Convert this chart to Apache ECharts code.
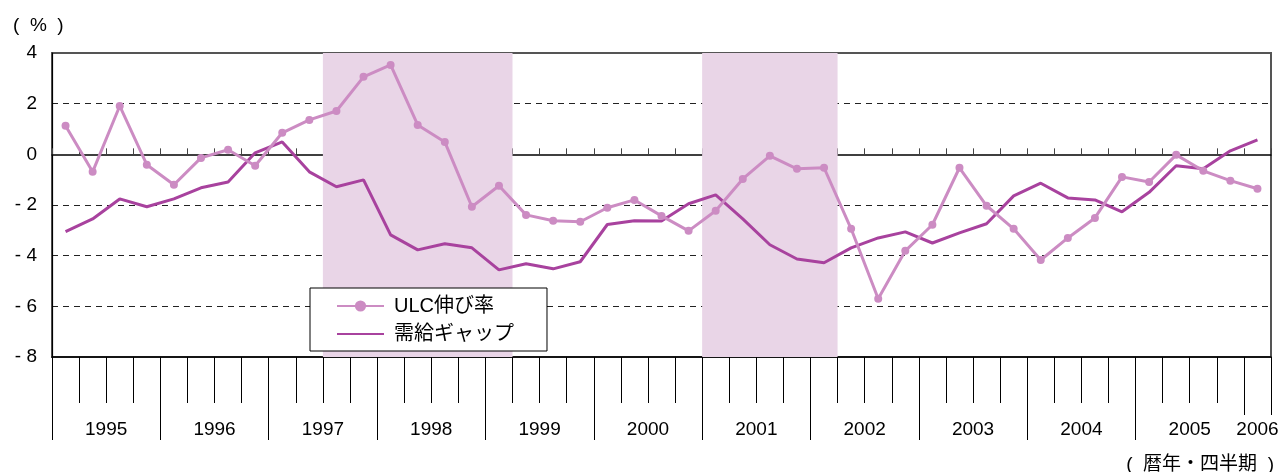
<!DOCTYPE html>
<html>
<head>
<meta charset="utf-8">
<script src="https://cdn.jsdelivr.net/npm/echarts@6/dist/echarts.min.js"></script>
<style>
  html, body { margin: 0; padding: 0; background: #fff; }
  #chart { width: 1282px; height: 472px; }
</style>
</head>
<body>
<div id="chart"></div>
<script>
// 年・四半期（1995年1Q〜2006年1Q）
const years = ['1995', '1996', '1997', '1998', '1999', '2000', '2001', '2002', '2003', '2004', '2005', '2006'];
const quartersPerYear = [4, 4, 4, 4, 4, 4, 4, 4, 4, 4, 4, 1];

// ULC伸び率（%）
const ulcGrowth = [
  1.13, -0.69, 1.91, -0.41, -1.20, -0.14, 0.18, -0.45,
  0.85, 1.36, 1.71, 3.06, 3.53, 1.16, 0.49, -2.07,
  -1.24, -2.39, -2.62, -2.66, -2.11, -1.80, -2.43, -3.02,
  -2.23, -0.97, -0.06, -0.57, -0.53, -2.94, -5.70, -3.81,
  -2.78, -0.53, -2.03, -2.94, -4.17, -3.30, -2.51, -0.89,
  -1.09, -0.02, -0.65, -1.04, -1.36
];

// 需給ギャップ（%）
const outputGap = [
  -3.05, -2.55, -1.76, -2.07, -1.76, -1.32, -1.09, 0.06,
  0.49, -0.69, -1.28, -1.01, -3.18, -3.77, -3.53, -3.69,
  -4.56, -4.32, -4.52, -4.24, -2.77, -2.62, -2.63, -1.95,
  -1.60, -2.55, -3.57, -4.13, -4.28, -3.69, -3.30, -3.06,
  -3.50, -3.10, -2.74, -1.64, -1.14, -1.72, -1.80, -2.27,
  -1.50, -0.45, -0.57, 0.14, 0.57
];

// 景気後退期（シャドー部分）
const recessions = [['1997Q3', '1999Q1'], ['2001Q1', '2002Q1']];

const yTicks = [-8, -6, -4, -2, 0, 2, 4];

const quarters = [];
years.forEach(function (y, i) {
  for (let q = 1; q <= quartersPerYear[i]; q++) quarters.push(y + 'Q' + q);
});
const nQ = quarters.length;

// 年の境目・年ラベル位置（四半期単位の値軸上）
const yearStarts = [];
const yearCenters = [];
let pos = 0;
years.forEach(function (y, i) {
  yearStarts.push(pos);
  yearCenters.push(pos + quartersPerYear[i] / 2);
  pos += quartersPerYear[i];
});
const longTicks = yearStarts.filter(function (v, i) { return quartersPerYear[i] === 4; });
const shortEndTicks = [yearStarts[yearStarts.length - 1], nQ];

const shadeAreas = recessions.map(function (r) {
  return [{ xAxis: quarters.indexOf(r[0]) }, { xAxis: quarters.indexOf(r[1]) + 1 }];
});

const FONT = '"Liberation Sans", "Noto Sans CJK JP", sans-serif';

const chart = echarts.init(document.getElementById('chart'));
chart.setOption({
  animation: false,
  backgroundColor: '#fff',
  title: [
    { text: '(  %  )', left: 8, top: 11, textStyle: { fontFamily: FONT, fontSize: 19, fontWeight: 'normal', color: '#000' } },
    { text: '(  暦年・四半期  )', right: 3, top: 450, textStyle: { fontFamily: FONT, fontSize: 19, fontWeight: 'normal', color: '#000' } }
  ],
  grid: {
    left: 52, right: 11, top: 53, bottom: 115,
    show: true, borderColor: '#555', borderWidth: 2, backgroundColor: 'transparent'
  },
  legend: {
    data: [
      { name: 'ULC伸び率' },
      { name: '需給ギャップ', itemStyle: { opacity: 0 } }
    ],
    orient: 'vertical',
    left: 310, top: 288,
    padding: [8, 33, 7, 26],
    itemGap: 8,
    itemWidth: 47,
    itemHeight: 14,
    backgroundColor: '#fff',
    borderColor: '#000',
    borderWidth: 1,
    borderRadius: 0,
    textStyle: { fontFamily: FONT, fontSize: 20, lineHeight: 20, color: '#000', padding: [0, 0, 0, 5] }
  },
  xAxis: [
    { // 0ライン（四半期の小目盛）
      type: 'category', data: quarters, position: 'bottom', boundaryGap: true,
      axisLine: { onZero: true, lineStyle: { color: '#000', width: 1.5 } },
      axisTick: { show: true, inside: true, interval: 0, length: 6, lineStyle: { color: '#444', width: 1 } },
      axisLabel: { show: false },
      splitLine: { show: false }
    },
    { // 下端の四半期目盛
      type: 'category', data: quarters, position: 'bottom', boundaryGap: true,
      axisLine: { onZero: false, lineStyle: { color: '#000', width: 1.5 } },
      axisTick: { show: true, interval: 0, length: 46, lineStyle: { color: '#000', width: 1 } },
      axisLabel: { show: false },
      splitLine: { show: false }
    },
    { // 年の区切り（長い線）
      type: 'value', min: 0, max: nQ, position: 'bottom',
      axisLine: { show: false, onZero: false },
      axisTick: { show: true, customValues: longTicks, length: 83, lineStyle: { color: '#000', width: 1 } },
      axisLabel: { show: false },
      splitLine: { show: false }
    },
    { // 年ラベル
      type: 'value', min: 0, max: nQ, position: 'bottom',
      axisLine: { show: false, onZero: false },
      axisTick: { show: true, customValues: shortEndTicks, length: 58, lineStyle: { color: '#000', width: 1 } },
      axisLabel: {
        show: true, customValues: yearCenters, margin: 63,
        fontFamily: FONT, fontSize: 19, color: '#000',
        formatter: function (v) {
          const i = yearCenters.indexOf(v);
          return i >= 0 ? years[i] : '';
        }
      },
      splitLine: { show: false }
    }
  ],
  yAxis: {
    type: 'value', min: -8, max: 4, interval: 2,
    axisLine: { show: true, onZero: false, lineStyle: { color: '#000', width: 1.2 } },
    axisTick: { show: false },
    axisLabel: {
      margin: 15, fontFamily: FONT, fontSize: 19, color: '#000',
      formatter: function (v) { return v < 0 ? '- ' + (-v) : String(v); }
    },
    splitLine: {
      show: true,
      lineStyle: {
        type: [6, 5], width: 1,
        color: yTicks.map(function (t) { return (t === 0 || t === 4 || t === -8) ? 'rgba(0,0,0,0)' : '#222'; })
      }
    }
  },
  series: [
    {
      name: '景気後退期', type: 'line', xAxisIndex: 2, data: [], silent: true, z: 1,
      markArea: { silent: true, itemStyle: { color: '#E9D5E7' }, data: shadeAreas }
    },
    {
      name: 'ULC伸び率', type: 'line', xAxisIndex: 0, data: ulcGrowth, z: 4,
      symbol: 'circle', symbolSize: 8, showAllSymbol: true,
      lineStyle: { color: '#CC8CC3', width: 3 },
      itemStyle: { color: '#CC8CC3' }
    },
    {
      name: '需給ギャップ', type: 'line', xAxisIndex: 0, data: outputGap, z: 3,
      symbol: 'none',
      lineStyle: { color: '#A8429E', width: 3 },
      itemStyle: { color: '#A8429E' }
    }
  ]
});
</script>
</body>
</html>
